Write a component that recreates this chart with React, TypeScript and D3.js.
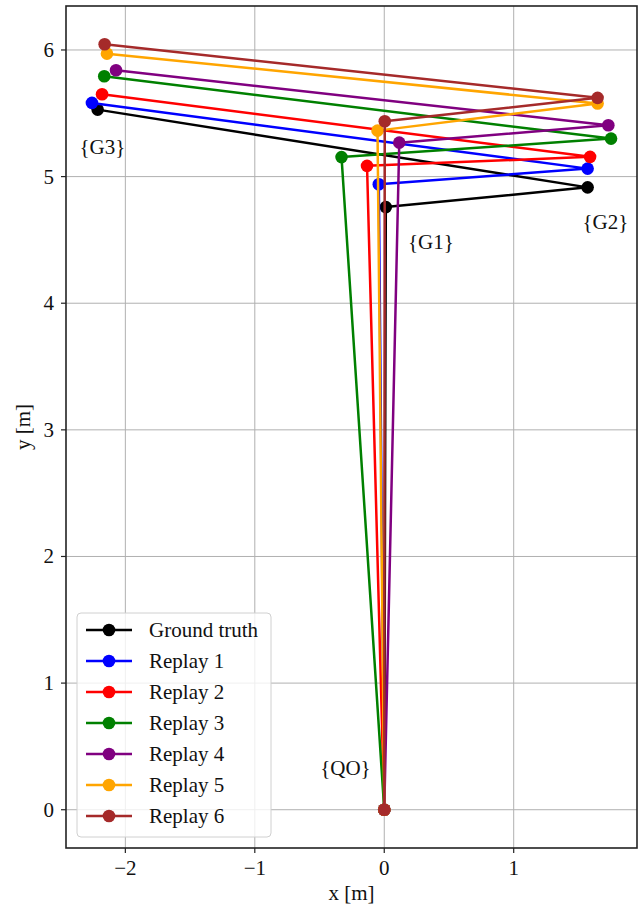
import React from "react";
import * as d3 from "d3";

// trajectory points: origin -> G1 -> G2 -> G3
const seriesNames = ["Ground truth", "Replay 1", "Replay 2", "Replay 3", "Replay 4", "Replay 5", "Replay 6"];
const seriesColors = ["#000000", "#0000ff", "#ff0000", "#008000", "#800080", "#ffa500", "#a52a2a"];

const groundTruthX = [0, 0.012, 1.571, -2.214];
const groundTruthY = [0, 4.759, 4.915, 5.529];
const replay1X = [0, -0.042, 1.571, -2.258];
const replay1Y = [0, 4.94, 5.063, 5.582];
const replay2X = [0, -0.133, 1.59, -2.18];
const replay2Y = [0, 5.085, 5.156, 5.65];
const replay3X = [0, -0.33, 1.752, -2.163];
const replay3Y = [0, 5.154, 5.3, 5.792];
const replay4X = [0, 0.116, 1.731, -2.072];
const replay4Y = [0, 5.268, 5.405, 5.84];
const replay5X = [0, -0.052, 1.648, -2.142];
const replay5Y = [0, 5.363, 5.577, 5.971];
const replay6X = [0, 0.004, 1.648, -2.16];
const replay6Y = [0, 5.437, 5.622, 6.045];

const allX = [groundTruthX, replay1X, replay2X, replay3X, replay4X, replay5X, replay6X];
const allY = [groundTruthY, replay1Y, replay2Y, replay3Y, replay4Y, replay5Y, replay6Y];

const xTicks = [-2, -1, 0, 1];
const yTicks = [0, 1, 2, 3, 4, 5, 6];

const frameLabels = ["{G3}", "{G2}", "{G1}", "{QO}"];
const frameLabelX = [-2.178, 1.708, 0.36, -0.3];
const frameLabelY = [5.23, 4.64, 4.48, 0.33];

const W = 643;
const H = 908;
const margin = { top: 6, right: 6, bottom: 60, left: 66 };
const FONT = "'Liberation Serif', 'Times New Roman', serif";

const App = () => {
  const [x0, x1] = d3.extent(allX.flat()) as [number, number];
  const [y0, y1] = d3.extent(allY.flat()) as [number, number];
  // matplotlib-style 5% padding
  const mx = (x1 - x0) * 0.05;
  const my = (y1 - y0) * 0.05;

  const x = d3.scaleLinear().domain([x0 - mx, x1 + mx]).range([margin.left, W - margin.right]);
  const y = d3.scaleLinear().domain([y0 - my, y1 + my]).range([H - margin.bottom, margin.top]);

  const pathFor = (xs: number[], ys: number[]) =>
    d3
      .line<[number, number]>()
      .x((d) => x(d[0]))
      .y((d) => y(d[1]))(xs.map((v, i) => [v, ys[i]] as [number, number])) || "";

  const left = margin.left;
  const right = W - margin.right;
  const top = margin.top;
  const bottom = H - margin.bottom;

  // legend layout
  const legX = 77;
  const legY = 613;
  const rowH = 31;

  return (
    <svg
      width={W}
      height={H}
      style={{ position: "absolute", left: 0, top: 0, background: "#fff" }}
      fontFamily={FONT}
    >
      <rect x={0} y={0} width={W} height={H} fill="#fff" />
      {/* grid */}
      <g stroke="#b0b0b0" strokeWidth={1}>
        {xTicks.map((t) => (
          <line key={"gx" + t} x1={x(t)} x2={x(t)} y1={top} y2={bottom} />
        ))}
        {yTicks.map((t) => (
          <line key={"gy" + t} x1={left} x2={right} y1={y(t)} y2={y(t)} />
        ))}
      </g>

      {/* trajectories */}
      {allX.map((xs, i) => (
        <g key={seriesNames[i]}>
          <path d={pathFor(xs, allY[i])} fill="none" stroke={seriesColors[i]} strokeWidth={2.5} strokeLinejoin="round" />
          {xs.map((v, j) => (
            <circle key={j} cx={x(v)} cy={y(allY[i][j])} r={6.3} fill={seriesColors[i]} />
          ))}
        </g>
      ))}

      {/* frame annotations */}
      {frameLabels.map((t, i) => (
        <text
          key={t}
          x={x(frameLabelX[i])}
          y={y(frameLabelY[i])}
          textAnchor="middle"
          dominantBaseline="central"
          fontSize={21}
          fill="#111"
        >
          {t}
        </text>
      ))}

      {/* axes frame */}
      <rect x={left} y={top} width={right - left} height={bottom - top} fill="none" stroke="#222" strokeWidth={1.6} />

      {/* ticks */}
      <g stroke="#222" strokeWidth={1.2}>
        {xTicks.map((t) => (
          <line key={"tx" + t} x1={x(t)} x2={x(t)} y1={bottom} y2={bottom + 5} />
        ))}
        {yTicks.map((t) => (
          <line key={"ty" + t} x1={left - 5} x2={left} y1={y(t)} y2={y(t)} />
        ))}
      </g>
      <g fontSize={21} fill="#111">
        {xTicks.map((t) => (
          <text key={"lx" + t} x={x(t)} y={bottom + 27} textAnchor="middle">
            {t < 0 ? "\u2212" + Math.abs(t) : String(t)}
          </text>
        ))}
        {yTicks.map((t) => (
          <text key={"ly" + t} x={left - 12} y={y(t)} textAnchor="end" dominantBaseline="central">
            {t}
          </text>
        ))}
      </g>

      <text x={(left + right) / 2} y={bottom + 52} textAnchor="middle" fontSize={21} fill="#111">
        x [m]
      </text>
      <text
        transform={`translate(30,${(top + bottom) / 2}) rotate(-90)`}
        textAnchor="middle"
        fontSize={21}
        fill="#111"
      >
        y [m]
      </text>

      {/* legend */}
      <rect
        x={legX}
        y={legY}
        width={194}
        height={224}
        rx={4}
        fill="#fff"
        fillOpacity={0.8}
        stroke="#d0d0d0"
        strokeWidth={1}
      />
      {seriesNames.map((name, i) => {
        const cy = legY + 17 + i * rowH;
        return (
          <g key={"leg" + name}>
            <line x1={legX + 9} x2={legX + 55} y1={cy} y2={cy} stroke={seriesColors[i]} strokeWidth={2.5} />
            <circle cx={legX + 32} cy={cy} r={6.3} fill={seriesColors[i]} />
            <text x={legX + 72} y={cy} dominantBaseline="central" fontSize={21} fill="#111">
              {name}
            </text>
          </g>
        );
      })}
    </svg>
  );
};

export default App;
